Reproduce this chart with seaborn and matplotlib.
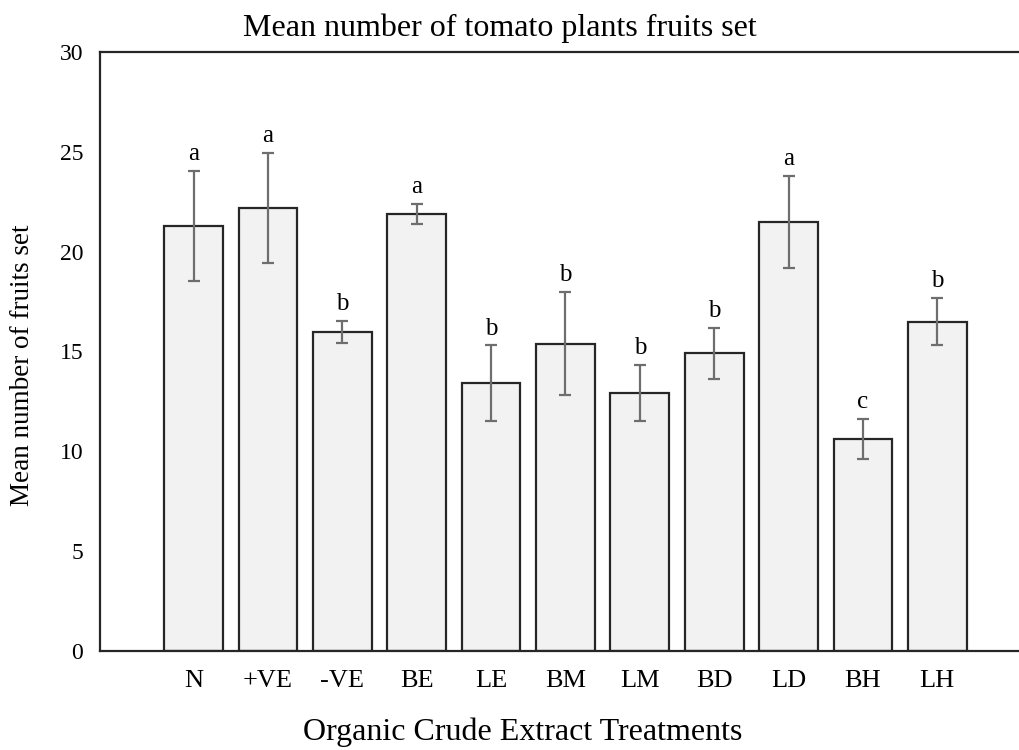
import pandas as pd
import seaborn as sns
import matplotlib.pyplot as plt

sns.set_style("white")
plt.rcParams['font.family'] = ['Liberation Serif', 'DejaVu Serif']
plt.rcParams['text.color'] = 'black'
plt.rcParams['xtick.color'] = 'black'
plt.rcParams['ytick.color'] = 'black'
plt.rcParams['axes.labelcolor'] = 'black'

treatments = ['N', '+VE', '-VE', 'BE', 'LE', 'BM', 'LM', 'BD', 'LD', 'BH', 'LH']
means = [21.3, 22.2, 16.0, 21.9, 13.4, 15.4, 12.9, 14.9, 21.5, 10.6, 16.5]
errors = [2.75, 2.75, 0.55, 0.5, 1.9, 2.6, 1.4, 1.3, 2.3, 1.0, 1.2]
letters = ['a', 'a', 'b', 'a', 'b', 'b', 'b', 'b', 'a', 'c', 'b']

df = pd.DataFrame({'treatment': treatments, 'mean': means, 'err': errors})

fig = plt.figure(figsize=(10.19, 7.5), dpi=100)
ax = fig.add_axes([0.0981, 0.132, 0.902, 0.7987])

sns.barplot(data=df, x='treatment', y='mean', color='#f2f2f2', edgecolor='#262626',
            linewidth=1.6, width=0.79, errorbar=None, saturation=1, ax=ax)

# error bars and significance letters
ax.errorbar(range(len(df)), df['mean'], yerr=df['err'], fmt='none',
            ecolor='#6e6e6e', elinewidth=1.6, capsize=4, capthick=1.6)
for i, (m, e, lab) in enumerate(zip(df['mean'], df['err'], letters)):
    ax.text(i, m + e + 0.3, lab, ha='center', va='bottom', fontsize=18)

ax.set_ylim(0, 30)
ax.set_xlim(-1.26, 11.1)
ax.set_yticks(range(0, 31, 5))
ax.tick_params(axis='both', length=0)
ax.tick_params(axis='x', pad=14, labelsize=19)
ax.tick_params(axis='y', pad=12, labelsize=17)
for side in ['left', 'top', 'bottom']:
    ax.spines[side].set_color('#262626')
    ax.spines[side].set_linewidth(1.6)
ax.spines['right'].set_visible(False)

ax.set_xlabel('')
ax.set_ylabel('')
fig.text(0.022, 0.513, 'Mean number of fruits set', rotation=90, ha='center',
         va='center', fontsize=19.5)
fig.text(0.513, 0.004, 'Organic Crude Extract Treatments', ha='center',
         va='bottom', fontsize=23)
fig.text(0.491, 0.962, 'Mean number of tomato plants fruits set', ha='center',
         va='center', fontsize=23)

fig.savefig('out.png', dpi=100)
